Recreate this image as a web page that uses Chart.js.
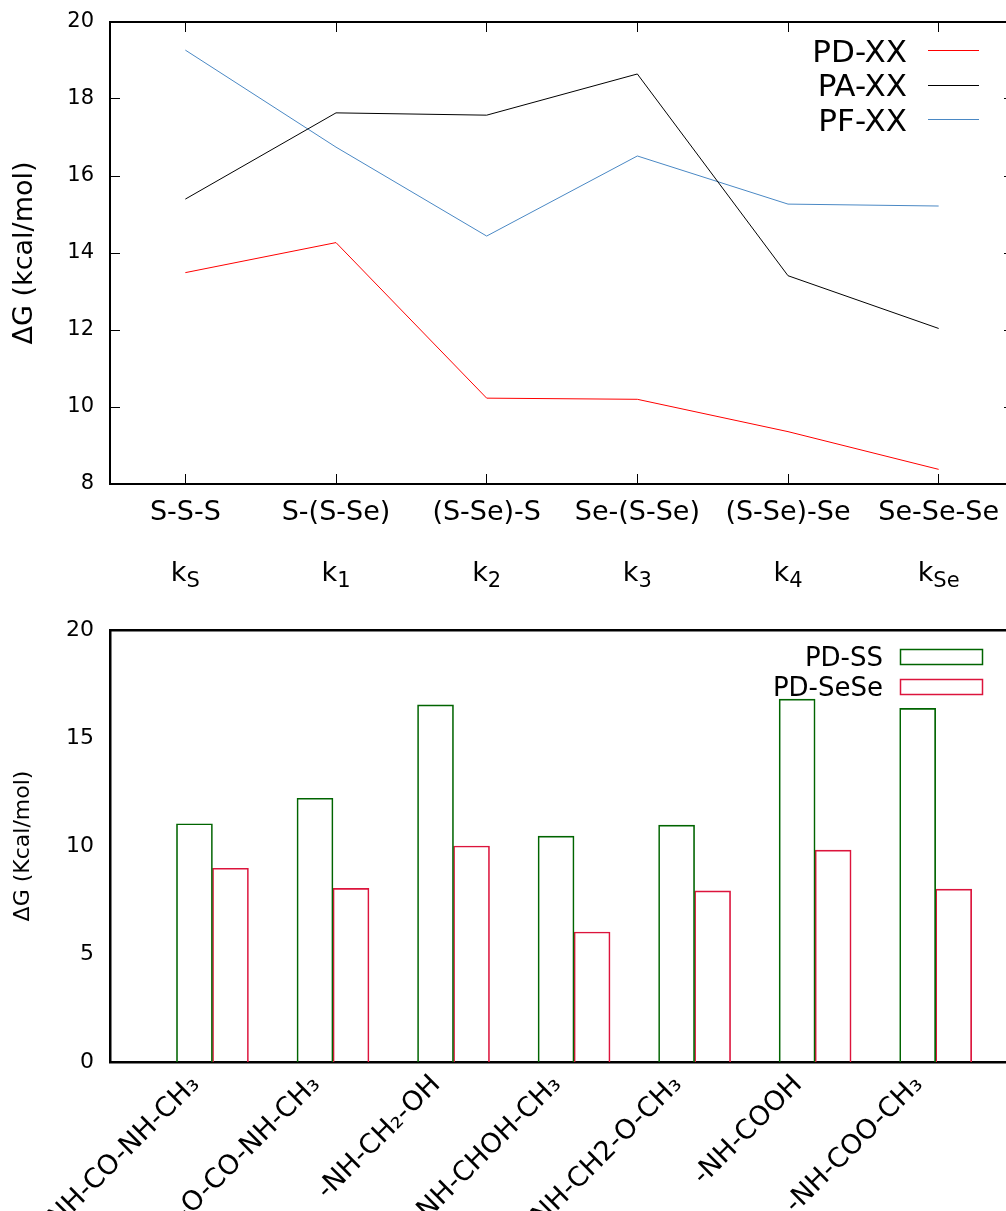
<!DOCTYPE html>
<html>
<head>
<meta charset="utf-8">
<title>ΔG of PD / PA / PF linkers</title>
<script src="https://cdn.jsdelivr.net/npm/chart.js@4.4.1/dist/chart.umd.min.js"></script>
<style>
  html, body { margin: 0; padding: 0; background: #fff; overflow: hidden; width: 1006px; height: 1211px; }
  canvas { position: absolute; left: 0; display: block; }
  #topChart { top: 0; }
  #bottomChart { top: 600px; }
</style>
</head>
<body>
<canvas id="topChart" width="1020" height="600"></canvas>
<canvas id="bottomChart" width="1020" height="611"></canvas>
<script>
// ---- upper panel: ΔG along the S/Se exchange sequence ----
const sequences = ['S-S-S', 'S-(S-Se)', '(S-Se)-S', 'Se-(S-Se)', '(S-Se)-Se', 'Se-Se-Se'];
const rateBase = ['k', 'k', 'k', 'k', 'k', 'k'];
const rateSub = ['S', '1', '2', '3', '4', 'Se'];
const pdXX = [13.49, 14.27, 10.23, 10.20, 9.36, 8.38];
const paXX = [15.40, 17.64, 17.58, 18.65, 13.41, 12.04];
const pfXX = [19.27, 16.75, 14.44, 16.52, 15.27, 15.22];
const topTicks = [8, 10, 12, 14, 16, 18, 20];

// ---- lower panel: ΔG per substituent ----
const substituents = [
  '-NH-CO-NH-CH\u2083',
  '-O-CO-NH-CH\u2083',
  '-NH-CH\u2082-OH',
  '-NH-CHOH-CH\u2083',
  '-NH-CH2-O-CH\u2083',
  '-NH-COOH',
  '-NH-COO-CH\u2083'
];
const pdSS = [11.03, 12.21, 16.53, 10.46, 10.97, 16.80, 16.37];
const pdSeSe = [8.97, 8.04, 10.00, 6.02, 7.92, 9.81, 8.00];
const bottomTicks = [0, 5, 10, 15, 20];

const FONT = '"DejaVu Sans", "Noto Sans", sans-serif';
Chart.defaults.font.family = FONT;
Chart.defaults.color = '#000';

// fixed axis thickness, and no extra label padding pushed into the layout
const fixSize = (w, h) => s => {
  if (w !== null) s.width = w;
  if (h !== null) s.height = h;
  s.paddingLeft = s.paddingRight = s.paddingTop = s.paddingBottom = 0;
};

// key drawn in the upper-right corner of the plot box: label right-aligned, sample to its right
const cornerKey = {
  id: 'cornerKey',
  afterDatasetsDraw(chart, args, o) {
    const { ctx, chartArea } = chart;
    ctx.save();
    ctx.font = o.fontSize + 'px ' + FONT;
    ctx.textAlign = 'right';
    ctx.textBaseline = 'alphabetic';
    chart.data.datasets.forEach((ds, i) => {
      const cy = chartArea.top + o.firstRow + i * o.rowGap;
      ctx.fillStyle = '#000';
      ctx.fillText(ds.label, chartArea.right - o.textRight, cy + o.baseline);
      const x0 = chartArea.right - o.sampleFrom;
      const x1 = chartArea.right - o.sampleTo;
      ctx.strokeStyle = ds.borderColor;
      ctx.lineWidth = o.sampleWidth;
      if (o.kind === 'box') {
        ctx.strokeRect(x0 + 0.5, Math.round(cy - o.boxH / 2) + 0.5, x1 - x0, o.boxH);
      } else {
        ctx.beginPath();
        ctx.moveTo(x0, Math.round(cy) + 0.5);
        ctx.lineTo(x1, Math.round(cy) + 0.5);
        ctx.stroke();
      }
    });
    ctx.restore();
  }
};

// second row of x labels: rate constant names with subscripts, placed on the category ticks
const rateRow = {
  id: 'rateRow',
  afterDraw(chart, args, o) {
    const { ctx } = chart;
    const xs = chart.scales.x;
    ctx.save();
    ctx.fillStyle = '#000';
    ctx.textBaseline = 'alphabetic';
    ctx.textAlign = 'left';
    rateBase.forEach((b, i) => {
      ctx.font = o.size + 'px ' + FONT;
      const wb = ctx.measureText(b).width;
      ctx.font = o.subSize + 'px ' + FONT;
      const ws = ctx.measureText(rateSub[i]).width;
      const x = xs.getPixelForValue(i) - (wb + ws) / 2;
      ctx.font = o.size + 'px ' + FONT;
      ctx.fillText(b, x, o.baseline);
      ctx.font = o.subSize + 'px ' + FONT;
      ctx.fillText(rateSub[i], x + wb, o.baseline + o.subShift);
    });
    ctx.restore();
  }
};

const inwardGrid = { display: true, drawOnChartArea: false, drawTicks: true, tickLength: -10, color: '#000', lineWidth: 1 };
const topBorder = { display: true, color: '#000', width: 2 };

new Chart(document.getElementById('topChart'), {
  type: 'line',
  data: {
    labels: sequences,
    datasets: [
      { label: 'PD-XX', data: pdXX, borderColor: '#ff0000', borderWidth: 1, pointRadius: 0, tension: 0, fill: false },
      { label: 'PA-XX', data: paXX, borderColor: '#000000', borderWidth: 1, pointRadius: 0, tension: 0, fill: false },
      { label: 'PF-XX', data: pfXX, borderColor: '#4a88c4', borderWidth: 1, pointRadius: 0, tension: 0, fill: false }
    ]
  },
  options: {
    responsive: false,
    animation: false,
    devicePixelRatio: 1,
    layout: { padding: { top: 22, right: 6, left: 0, bottom: 0 } },
    plugins: {
      legend: { display: false },
      tooltip: { enabled: false },
      cornerKey: { fontSize: 31, firstRow: 28, rowGap: 34.6, baseline: 11.5, textRight: 107, sampleFrom: 86, sampleTo: 35, sampleWidth: 1, kind: 'line' },
      rateRow: { size: 27, subSize: 21, baseline: 581, subShift: 6 }
    },
    scales: {
      x: {
        type: 'category', position: 'bottom', offset: true,
        grid: inwardGrid, border: topBorder,
        ticks: { font: { size: 27 }, color: '#000', padding: 22.5, maxRotation: 0, minRotation: 0, autoSkip: false },
        afterFit: fixSize(null, 116)
      },
      x2: {
        type: 'category', position: 'top', offset: true,
        grid: inwardGrid, border: topBorder,
        ticks: { display: false },
        afterFit: fixSize(null, 0)
      },
      y: {
        type: 'linear', position: 'left', min: 8, max: 20,
        afterBuildTicks: s => { s.ticks = topTicks.map(v => ({ value: v })); },
        grid: inwardGrid, border: topBorder,
        ticks: { font: { size: 21 }, color: '#000', padding: 26 },
        title: { display: true, text: 'ΔG (kcal/mol)', font: { size: 27 }, color: '#000', padding: { top: 9, bottom: 0 } },
        afterFit: fixSize(110, null)
      },
      y2: {
        type: 'linear', position: 'right', min: 8, max: 20,
        afterBuildTicks: s => { s.ticks = topTicks.map(v => ({ value: v })); },
        grid: inwardGrid, border: topBorder,
        ticks: { display: false },
        afterFit: fixSize(0, null)
      }
    }
  },
  plugins: [cornerKey, rateRow]
});

const boxBorder = { display: true, color: '#000', width: 2.5 };
const xMin = -0.85, xMax = 6.65;

new Chart(document.getElementById('bottomChart'), {
  type: 'bar',
  data: {
    datasets: [
      { label: 'PD-SS', data: pdSS.map((v, i) => ({ x: i, y: v })), borderColor: '#006400', backgroundColor: 'rgba(255,255,255,0)', borderWidth: 1, barThickness: 36 },
      { label: 'PD-SeSe', data: pdSeSe.map((v, i) => ({ x: i, y: v })), borderColor: '#dc143c', backgroundColor: 'rgba(255,255,255,0)', borderWidth: 1, barThickness: 36 }
    ]
  },
  options: {
    responsive: false,
    animation: false,
    devicePixelRatio: 1,
    layout: { padding: { top: 30, right: 6, left: 0, bottom: 0 } },
    plugins: {
      legend: { display: false },
      tooltip: { enabled: false },
      cornerKey: { fontSize: 26, firstRow: 26, rowGap: 30.5, baseline: 9.5, textRight: 131, sampleFrom: 114, sampleTo: 32, sampleWidth: 1.5, boxH: 15, kind: 'box' }
    },
    scales: {
      x: {
        type: 'linear', position: 'bottom', min: xMin, max: xMax, offset: false,
        afterBuildTicks: s => { s.ticks = substituents.map((_, i) => ({ value: i })); },
        grid: { display: false, drawTicks: false },
        border: boxBorder,
        ticks: {
          font: { size: 27 }, color: '#000', padding: 7, labelOffset: -17,
          minRotation: 45, maxRotation: 45, autoSkip: false,
          callback: v => substituents[v]
        },
        afterFit: fixSize(null, 149)
      },
      x2: {
        type: 'linear', position: 'top', min: xMin, max: xMax, offset: false,
        grid: { display: false, drawTicks: false }, border: boxBorder,
        ticks: { display: false },
        afterFit: fixSize(null, 0)
      },
      y: {
        type: 'linear', position: 'left', min: 0, max: 20,
        afterBuildTicks: s => { s.ticks = bottomTicks.map(v => ({ value: v })); },
        grid: { display: false, drawTicks: false }, border: boxBorder,
        ticks: { font: { size: 22 }, color: '#000', padding: 16 },
        title: { display: true, text: 'ΔG (Kcal/mol)', font: { size: 22 }, color: '#000', padding: { top: 10, bottom: 0 } },
        afterFit: fixSize(110, null)
      },
      y2: {
        type: 'linear', position: 'right', min: 0, max: 20,
        grid: { display: false, drawTicks: false }, border: boxBorder,
        ticks: { display: false },
        afterFit: fixSize(0, null)
      }
    }
  },
  plugins: [cornerKey]
});
</script>
</body>
</html>
